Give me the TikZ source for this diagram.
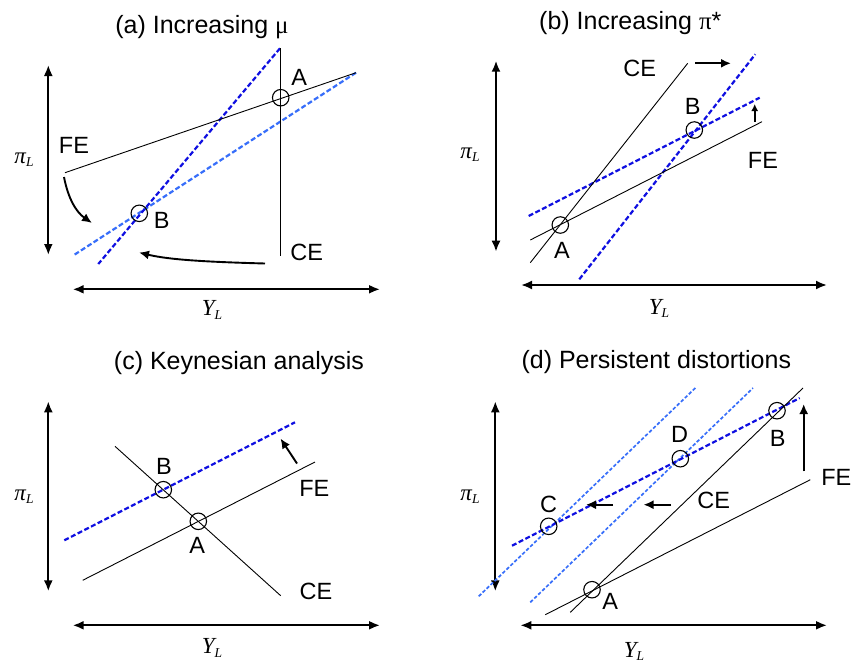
\documentclass[tikz,border=0pt]{standalone}
\usepackage{fontspec}
\setmainfont{Liberation Sans}
\newfontfamily\tms{Liberation Serif}
\usetikzlibrary{arrows.meta}
\definecolor{dkblue}{RGB}{15,15,225}
\definecolor{ltblue}{RGB}{55,110,250}
\newcommand\myaxlab[2]{{\tms\itshape\fontsize{23}{24}\selectfont #1}\raisebox{-0.6ex}{\tms\itshape\fontsize{13.5}{14}\selectfont #2}}
\begin{document}
\begin{tikzpicture}[x=1pt,y=-1pt,
  axis/.style={line width=2pt,{Latex[length=11pt,width=9pt]}-{Latex[length=11pt,width=9pt]}},
  curve/.style={line width=0.9pt},
  shiftdk/.style={dkblue,line width=2.2pt,dash pattern=on 5pt off 2.5pt},
  shiftlt/.style={ltblue,line width=2.2pt,dash pattern=on 5pt off 2.5pt},
  shiftlt2/.style={ltblue,line width=1.7pt,dash pattern=on 3.5pt off 2pt},
  eq/.style={circle,draw,line width=1.1pt,minimum size=16.5pt,inner sep=0pt},
  lab/.style={font=\fontsize{23.5}{28}\selectfont,inner sep=0pt},
  ttl/.style={font=\fontsize{25}{30}\selectfont,inner sep=0pt,anchor=base},
  move/.style={line width=1.9pt,-{Latex[length=10pt,width=9pt]}},
  ]
\useasboundingbox (0,0) rectangle (854,667);
\fill[white] (0,0) rectangle (854,667);

% ================= (a) =================
\node[ttl] (ta) at (202,33.3) {(a) Increasing {\tms μ}};
\coordinate (a-v1) at (48.3,65); \coordinate (a-v2) at (48.3,255);
\coordinate (a-h1) at (72.7,289.3); \coordinate (a-h2) at (380,289.3);
\draw[axis] (a-v1) -- (a-v2);
\draw[axis] (a-h1) -- (a-h2);
\node (a-pl) at (24,160) {\myaxlab{π}{L}};
\node (a-yl) at (212,310) {\myaxlab{Y}{L}};
\coordinate (a-fe1) at (65,172.7); \coordinate (a-fe2) at (356,72.7);
\coordinate (a-ce1) at (280.7,48.3); \coordinate (a-ce2) at (280.7,256);
\coordinate (a-d1) at (280,48.3); \coordinate (a-d2) at (98.3,264);
\coordinate (a-l1) at (356,72.7); \coordinate (a-l2) at (74,255);
\draw[shiftlt] (a-l1) -- (a-l2);
\draw[shiftdk] (a-d1) -- (a-d2);
\draw[curve] (a-fe1) -- (a-fe2);
\draw[curve] (a-ce1) -- (a-ce2);
\node[eq] (a-A) at (280.7,97.7) {};
\node[eq] (a-B) at (139.3,213.3) {};
\node[lab] (a-Al) at (299.3,77.3) {A};
\node[lab] (a-Bl) at (161.7,220) {B};
\node[lab] (a-FE) at (74,145) {FE};
\node[lab] (a-CE) at (306.7,252.7) {CE};
\coordinate (a-c1s) at (64,177); \coordinate (a-c1e) at (92,223);
\draw[move] (a-c1s) .. controls (68,198) and (76,212) .. (a-c1e);
\coordinate (a-c2s) at (265,263.5); \coordinate (a-c2e) at (139,252.5);
\draw[move] (a-c2s) .. controls (210,262) and (170,260) .. (a-c2e);

% ================= (b) =================
\node[ttl] (tb) at (630.3,29.3) {(b) Increasing {\tms π}*};
\coordinate (b-v1) at (496,60.7); \coordinate (b-v2) at (496,251.7);
\coordinate (b-h1) at (521,285); \coordinate (b-h2) at (827,285);
\draw[axis] (b-v1) -- (b-v2);
\draw[axis] (b-h1) -- (b-h2);
\node (b-pl) at (470,155) {\myaxlab{π}{L}};
\node (b-yl) at (659,308.3) {\myaxlab{Y}{L}};
\coordinate (b-ce1) at (530.3,262.7); \coordinate (b-ce2) at (687.7,63.3);
\coordinate (b-fe1) at (530.3,240); \coordinate (b-fe2) at (762,121.7);
\coordinate (b-d1) at (579.3,279.3); \coordinate (b-d2) at (755.3,54.3);
\coordinate (b-e1) at (528.7,216); \coordinate (b-e2) at (759.7,97.7);
\draw[shiftdk] (b-d1) -- (b-d2);
\draw[shiftdk] (b-e1) -- (b-e2);
\draw[curve] (b-ce1) -- (b-ce2);
\draw[curve] (b-fe1) -- (b-fe2);
\node[eq] (b-A) at (560.3,225) {};
\node[eq] (b-B) at (694.3,130) {};
\node[lab] (b-Al) at (562,250.7) {A};
\node[lab] (b-Bl) at (692.7,106.7) {B};
\node[lab] (b-CE) at (639.7,68.3) {CE};
\node[lab] (b-FE) at (763,160) {FE};
\coordinate (b-r1) at (695.3,63.3); \coordinate (b-r2) at (731,63.3);
\draw[move] (b-r1) -- (b-r2);
\coordinate (b-u1) at (754.7,122); \coordinate (b-u2) at (754.7,104);
\draw[move,line width=1.6pt,-{Latex[length=7pt,width=7pt]}] (b-u1) -- (b-u2);

% ================= (c) =================
\node[ttl] (tc) at (239,369) {(c) Keynesian analysis};
\coordinate (c-v1) at (48.3,401.3); \coordinate (c-v2) at (48.3,591.3);
\coordinate (c-h1) at (72.7,625.3); \coordinate (c-h2) at (380,625.3);
\draw[axis] (c-v1) -- (c-v2);
\draw[axis] (c-h1) -- (c-h2);
\node (c-pl) at (24,496.3) {\myaxlab{π}{L}};
\node (c-yl) at (212,648) {\myaxlab{Y}{L}};
\coordinate (c-ce1) at (115,446.3); \coordinate (c-ce2) at (280.7,595.7);
\coordinate (c-fe1) at (82.7,580.3); \coordinate (c-fe2) at (315,462);
\coordinate (c-d1) at (64.3,540.3); \coordinate (c-d2) at (295,422.3);
\draw[shiftdk] (c-d1) -- (c-d2);
\draw[curve] (c-ce1) -- (c-ce2);
\draw[curve] (c-fe1) -- (c-fe2);
\node[eq] (c-B) at (163.3,489.7) {};
\node[eq] (c-A) at (198.3,521.3) {};
\node[lab] (c-Bl) at (164,466.3) {B};
\node[lab] (c-Al) at (197.3,545.3) {A};
\node[lab] (c-FE) at (314.3,488) {FE};
\node[lab] (c-CE) at (316,591.3) {CE};
\coordinate (c-m1) at (297,463.5); \coordinate (c-m2) at (280.5,438.5);
\draw[move] (c-m1) -- (c-m2);

% ================= (d) =================
\node[ttl] (td) at (656.3,368.7) {(d) Persistent distortions};
\coordinate (d-v1) at (495.3,401.3); \coordinate (d-v2) at (495.3,591.3);
\coordinate (d-h1) at (520.3,625.3); \coordinate (d-h2) at (827,625.3);
\draw[axis] (d-v1) -- (d-v2);
\draw[axis] (d-h1) -- (d-h2);
\node (d-pl) at (470,496.3) {\myaxlab{π}{L}};
\node (d-yl) at (634,651.3) {\myaxlab{Y}{L}};
\coordinate (d-ce1) at (570.3,612.3); \coordinate (d-ce2) at (803,388);
\coordinate (d-fe1) at (545.3,614.7); \coordinate (d-fe2) at (810.3,479.7);
\coordinate (d-l1) at (478.7,596.3); \coordinate (d-l2) at (695.3,388);
\coordinate (d-k1) at (530.3,602.3); \coordinate (d-k2) at (753,388);
\coordinate (d-d1) at (512,545.7); \coordinate (d-d2) at (799.7,398);
\draw[shiftlt2] (d-l1) -- (d-l2);
\draw[shiftlt2] (d-k1) -- (d-k2);
\draw[shiftdk] (d-d1) -- (d-d2);
\draw[curve] (d-ce1) -- (d-ce2);
\draw[curve] (d-fe1) -- (d-fe2);
\node[eq] (d-A) at (592,589.7) {};
\node[eq] (d-B) at (777,410.7) {};
\node[eq] (d-C) at (548.7,526.3) {};
\node[eq] (d-D) at (680.3,458.7) {};
\node[lab] (d-Al) at (610.3,601.3) {A};
\node[lab] (d-Bl) at (777.7,438) {B};
\node[lab] (d-Cl) at (548.7,504.7) {C};
\node[lab] (d-Dl) at (679.7,434.7) {D};
\node[lab] (d-CE) at (713.7,500.3) {CE};
\node[lab] (d-FE) at (836.3,477) {FE};
\coordinate (d-a1) at (613,504.7); \coordinate (d-a2) at (586,504.7);
\draw[move] (d-a1) -- (d-a2);
\coordinate (d-b1) at (671,504.7); \coordinate (d-b2) at (643.5,504.7);
\draw[move] (d-b1) -- (d-b2);
\coordinate (d-u1) at (803.7,471.3); \coordinate (d-u2) at (803.7,404);
\draw[move] (d-u1) -- (d-u2);
\end{tikzpicture}
\end{document}
